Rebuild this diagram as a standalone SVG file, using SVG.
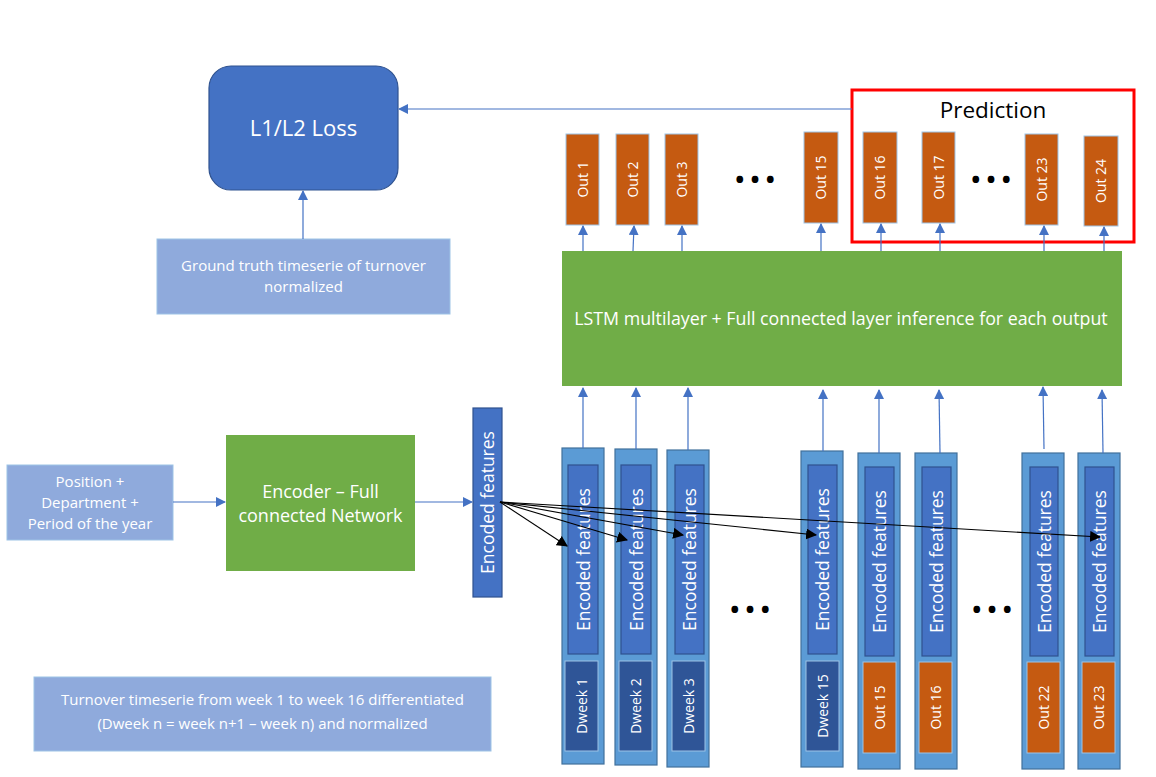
<svg xmlns="http://www.w3.org/2000/svg" width="1156" height="777" viewBox="0 0 1156 777">
<defs>
<marker id="ab" viewBox="0 0 10 10" refX="9" refY="5" markerWidth="10" markerHeight="10" markerUnits="userSpaceOnUse" orient="auto"><path d="M0,0 L10,5 L0,10 z" fill="#4472C4"/></marker>
<marker id="ak" viewBox="0 0 10 10" refX="9" refY="5" markerWidth="11" markerHeight="11" markerUnits="userSpaceOnUse" orient="auto"><path d="M0,0 L10,5 L0,10 z" fill="#000"/></marker>
</defs>
<style>
text{font-family:"Open Sans","Noto Sans",sans-serif;fill:#fff;}
.t14{font-size:15px;text-anchor:middle;}
.t13{font-size:14px;text-anchor:middle;}
.ef{font-size:17.5px;text-anchor:middle;}
.out{fill:#C55A11;stroke:#9DC3E6;stroke-width:1;}
.col{fill:#5B9BD5;stroke:#41719C;stroke-width:1.2;}
.inner{fill:#4472C4;stroke:#2F528F;stroke-width:1.2;}
.dw{fill:#2F5597;stroke:#9DC3E6;stroke-width:1;}
.lb{fill:#8FAADC;stroke:#9DC3E6;stroke-width:1;}
.bl{stroke:#4472C4;stroke-width:1.2;fill:none;marker-end:url(#ab);}
.bk{stroke:#000;stroke-width:1.1;fill:none;marker-end:url(#ak);}
.dots{font-size:24px;fill:#000;text-anchor:middle;font-weight:bold;}
</style>
<rect width="1156" height="777" fill="#fff"/>

<g id="loss">
<rect x="209" y="66" width="189" height="124" rx="22" fill="#4472C4" stroke="#2F528F" stroke-width="1.2"/>
<text x="303.5" y="136" style="font-size:22px;text-anchor:middle">L1/L2 Loss</text>
</g>
<g id="groundtruth">
<rect class="lb" x="157" y="239" width="293" height="75"/>
<text class="t14" x="303.5" y="271">Ground truth timeserie of turnover</text>
<text class="t14" x="303.5" y="292">normalized</text>
</g>

<g id="prediction">
<rect x="852" y="90" width="282" height="152" fill="none" stroke="#FF0000" stroke-width="3"/>
<text x="993" y="118" style="font-size:22.5px;fill:#000;text-anchor:middle">Prediction</text>
</g>

<g id="outs">
<g id="out1"><rect class="out" x="566" y="134" width="33" height="91"/><text class="t13" transform="translate(587.5,179.5) rotate(-90)">Out 1</text></g>
<g id="out2"><rect class="out" x="616" y="134" width="33" height="91"/><text class="t13" transform="translate(637.5,179.5) rotate(-90)">Out 2</text></g>
<g id="out3"><rect class="out" x="665" y="134" width="33" height="91"/><text class="t13" transform="translate(686.5,179.5) rotate(-90)">Out 3</text></g>
<g id="out15"><rect class="out" x="804" y="132" width="34" height="91"/><text class="t13" transform="translate(826,177.5) rotate(-90)">Out 15</text></g>
<g id="out16"><rect class="out" x="863" y="132" width="34" height="91"/><text class="t13" transform="translate(885,177.5) rotate(-90)">Out 16</text></g>
<g id="out17"><rect class="out" x="922" y="132" width="33" height="91"/><text class="t13" transform="translate(943.5,177.5) rotate(-90)">Out 17</text></g>
<g id="out23"><rect class="out" x="1025" y="134" width="33" height="91"/><text class="t13" transform="translate(1046.5,179.5) rotate(-90)">Out 23</text></g>
<g id="out24"><rect class="out" x="1084" y="136" width="34" height="90"/><text class="t13" transform="translate(1106,181) rotate(-90)">Out 24</text></g>
<text class="dots" x="755" y="188">• • •</text>
<text class="dots" x="991" y="188">• • •</text>
</g>

<g id="lstm">
<rect x="562" y="251" width="560" height="135" fill="#70AD47"/>
<text x="841" y="325" style="font-size:17.8px;text-anchor:middle">LSTM multilayer + Full connected layer inference for each output</text>
</g>

<g id="input">
<rect class="lb" x="7" y="465" width="166" height="75"/>
<text class="t14" x="90" y="487">Position +</text>
<text class="t14" x="90" y="508">Department +</text>
<text class="t14" x="90" y="529">Period of the year</text>
</g>

<g id="encoder">
<rect x="226" y="435" width="189" height="136" fill="#70AD47"/>
<text x="320.5" y="498" style="font-size:18px;text-anchor:middle">Encoder – Full</text>
<text x="320.5" y="522" style="font-size:18px;text-anchor:middle">connected Network</text>
</g>

<g id="encoded">
<rect class="inner" x="473" y="408" width="29" height="189"/>
<text class="ef" transform="translate(494,502.5) rotate(-90)">Encoded features</text>
</g>

<g id="columns">
<g id="col1"><rect class="col" x="562" y="448" width="42" height="316"/><rect class="inner" x="568" y="465" width="30" height="189"/><text class="ef" transform="translate(589.5,559.5) rotate(-90)">Encoded features</text><rect class="dw" x="565" y="661" width="33" height="90"/><text class="t13" transform="translate(586.5,706) rotate(-90)">Dweek 1</text></g>
<g id="col2"><rect class="col" x="615" y="449" width="42" height="316"/><rect class="inner" x="621" y="465" width="30" height="189"/><text class="ef" transform="translate(642.5,559.5) rotate(-90)">Encoded features</text><rect class="dw" x="619" y="661" width="33" height="90"/><text class="t13" transform="translate(640.5,706) rotate(-90)">Dweek 2</text></g>
<g id="col3"><rect class="col" x="667" y="450" width="42" height="317"/><rect class="inner" x="675" y="465" width="29" height="189"/><text class="ef" transform="translate(696,559.5) rotate(-90)">Encoded features</text><rect class="dw" x="672" y="661" width="33" height="90"/><text class="t13" transform="translate(693.5,706) rotate(-90)">Dweek 3</text></g>
<g id="col4"><rect class="col" x="801" y="451" width="42" height="316"/><rect class="inner" x="808" y="465" width="29" height="189"/><text class="ef" transform="translate(829,559.5) rotate(-90)">Encoded features</text><rect class="dw" x="806" y="661" width="33" height="90"/><text class="t13" transform="translate(827.5,706) rotate(-90)">Dweek 15</text></g>
<g id="col5"><rect class="col" x="858" y="453" width="42" height="316"/><rect class="inner" x="865" y="467" width="29" height="189"/><text class="ef" transform="translate(886,561.5) rotate(-90)">Encoded features</text><rect class="out" x="863" y="662" width="33" height="91"/><text class="t13" transform="translate(884.5,707.5) rotate(-90)">Out 15</text></g>
<g id="col6"><rect class="col" x="915" y="453" width="42" height="316"/><rect class="inner" x="922" y="467" width="29" height="189"/><text class="ef" transform="translate(943,561.5) rotate(-90)">Encoded features</text><rect class="out" x="919" y="662" width="33" height="91"/><text class="t13" transform="translate(940.5,707.5) rotate(-90)">Out 16</text></g>
<g id="col7"><rect class="col" x="1022" y="453" width="42" height="316"/><rect class="inner" x="1030" y="467" width="28" height="189"/><text class="ef" transform="translate(1050.5,561.5) rotate(-90)">Encoded features</text><rect class="out" x="1027" y="662" width="33" height="91"/><text class="t13" transform="translate(1048.5,707.5) rotate(-90)">Out 22</text></g>
<g id="col8"><rect class="col" x="1078" y="453" width="42" height="316"/><rect class="inner" x="1085" y="467" width="29" height="189"/><text class="ef" transform="translate(1106,561.5) rotate(-90)">Encoded features</text><rect class="out" x="1082" y="662" width="33" height="91"/><text class="t13" transform="translate(1103.5,707.5) rotate(-90)">Out 23</text></g>
<text class="dots" x="750" y="618">• • •</text>
<text class="dots" x="992" y="618">• • •</text>
</g>

<g id="note">
<rect class="lb" x="34" y="677" width="457" height="74"/>
<text class="t14" x="262.5" y="705">Turnover timeserie from week 1 to week 16 differentiated</text>
<text class="t14" x="262.5" y="729">(Dweek n = week n+1 – week n) and normalized</text>
</g>

<g id="connectors">
<line class="bl" x1="852" y1="109" x2="399" y2="109"/>
<line class="bl" x1="303" y1="239" x2="303" y2="191"/>
<line class="bl" x1="173" y1="502" x2="225" y2="502"/>
<line class="bl" x1="415" y1="502" x2="472" y2="502"/>
<line class="bl" x1="583" y1="251" x2="583" y2="226"/>
<line class="bl" x1="633" y1="251" x2="634" y2="226"/>
<line class="bl" x1="682" y1="251" x2="682" y2="226"/>
<line class="bl" x1="821" y1="251" x2="821" y2="224"/>
<line class="bl" x1="881" y1="251" x2="881" y2="224"/>
<line class="bl" x1="940" y1="251" x2="940" y2="224"/>
<line class="bl" x1="1044" y1="251" x2="1044" y2="226"/>
<line class="bl" x1="1104" y1="251" x2="1104" y2="227"/>
<line class="bl" x1="583" y1="448" x2="583" y2="388"/>
<line class="bl" x1="636" y1="449" x2="636" y2="388"/>
<line class="bl" x1="688" y1="450" x2="688" y2="388"/>
<line class="bl" x1="823" y1="451" x2="823" y2="390"/>
<line class="bl" x1="879" y1="453" x2="879" y2="390"/>
<line class="bl" x1="940" y1="453" x2="939" y2="390"/>
<line class="bl" x1="1044" y1="449" x2="1043" y2="387"/>
<line class="bl" x1="1103" y1="453" x2="1102" y2="390"/>
<line class="bk" x1="500" y1="502" x2="567" y2="546"/>
<line class="bk" x1="500" y1="502" x2="627" y2="540"/>
<line class="bk" x1="500" y1="502" x2="683" y2="535"/>
<line class="bk" x1="500" y1="502" x2="816" y2="535"/>
<line class="bk" x1="500" y1="502" x2="1100" y2="537"/>
</g>
</svg>
